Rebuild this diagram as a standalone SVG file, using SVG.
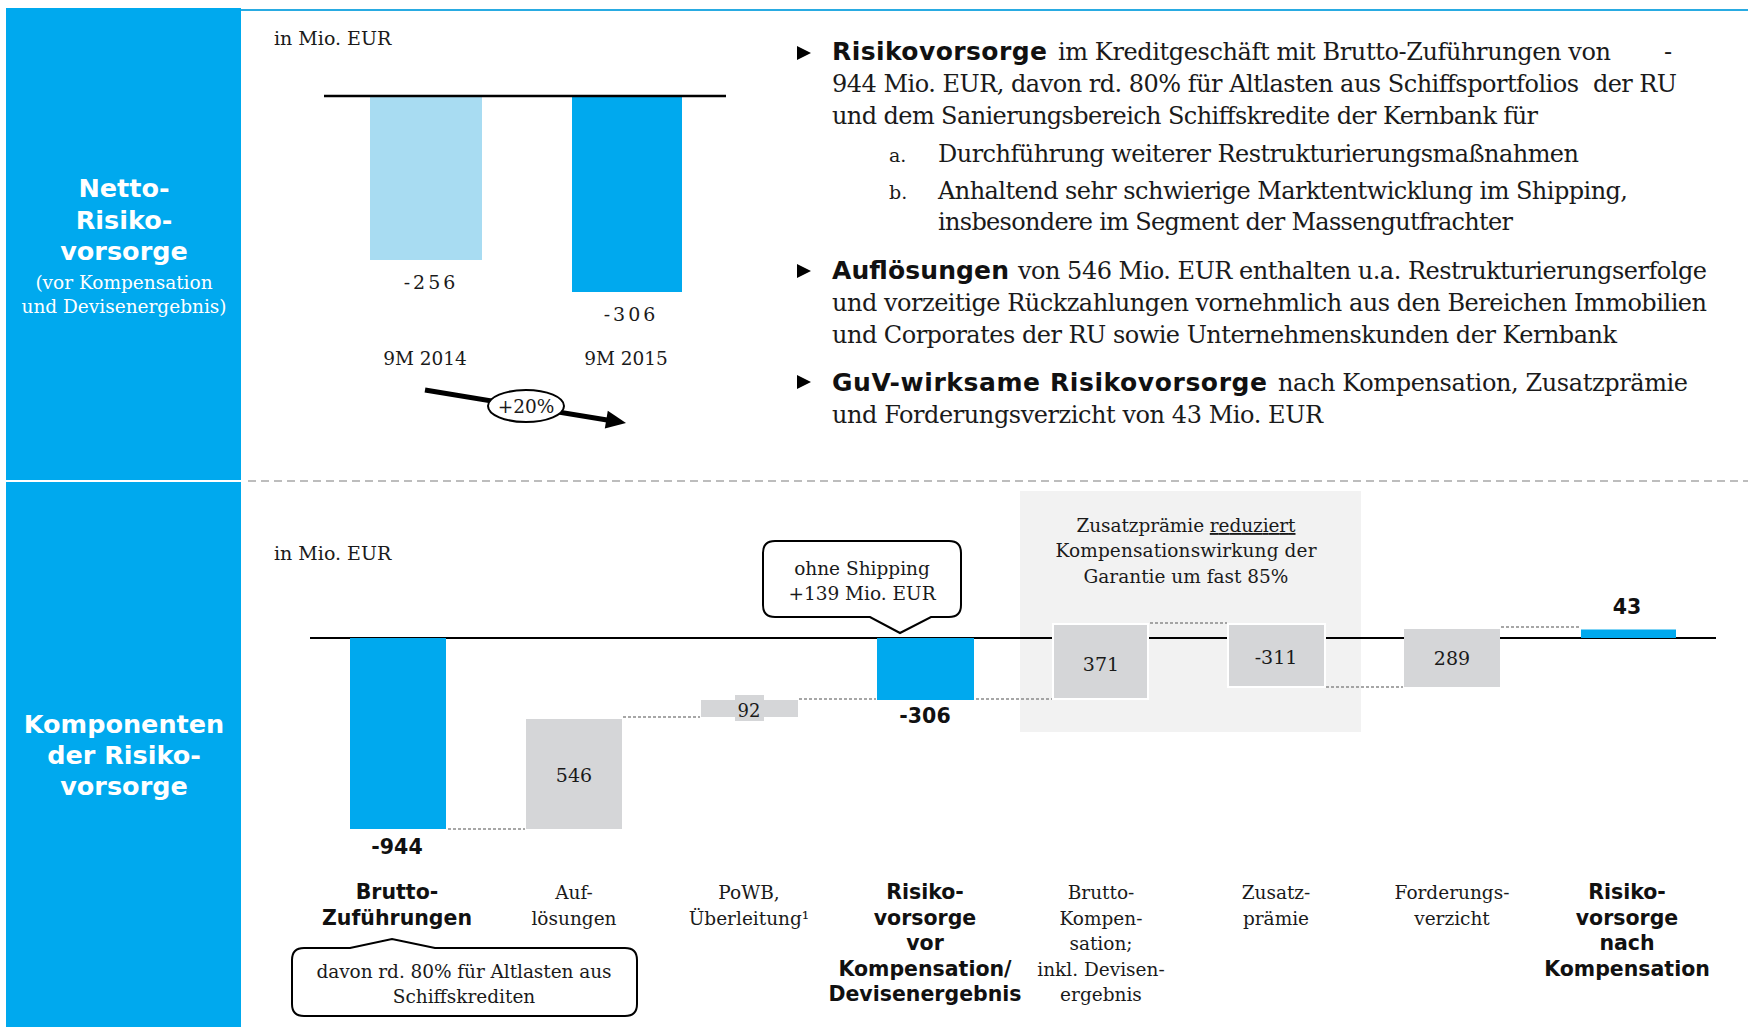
<svg xmlns="http://www.w3.org/2000/svg" width="1748" height="1027" viewBox="0 0 1748 1027">
<style>
.sr{font-family:"DejaVu Serif",serif;fill:#1a1a1a}
.sb{font-family:"DejaVu Sans",sans-serif;font-weight:bold;fill:#111}
.w{fill:#fff}
.mid{text-anchor:middle}
.blue{fill:#00A9EE}
.gray{fill:#D5D6D8}
.dash{stroke:#8a8a8a;stroke-width:1.6;stroke-dasharray:3 2;fill:none}
.body{font-size:24px}
.lbl{font-size:18.5px}
.bold20{font-size:20.5px}
</style>
<rect width="1748" height="1027" fill="#fff"/>
<!-- left panels -->
<g id="panel-netto">
<rect x="6" y="8" width="235" height="473" class="blue"/>
<text class="sb w mid" x="124" y="197" font-size="25.5">Netto-</text>
<text class="sb w mid" x="124" y="229" font-size="25.5">Risiko-</text>
<text class="sb w mid" x="124" y="260" font-size="25.5">vorsorge</text>
<text class="sr w mid" x="124" y="289" font-size="18.5" style="fill:#fff">(vor Kompensation</text>
<text class="sr w mid" x="124" y="313" font-size="18.5" style="fill:#fff">und Devisenergebnis)</text>
</g>
<g id="panel-komponenten">
<rect x="6" y="482" width="235" height="545" class="blue"/>
<text class="sb w mid" x="124" y="733" font-size="25.5">Komponenten</text>
<text class="sb w mid" x="124" y="764" font-size="25.5">der Risiko-</text>
<text class="sb w mid" x="124" y="795" font-size="25.5">vorsorge</text>
</g>
<line x1="6" y1="481" x2="241" y2="481" stroke="#fff" stroke-width="2"/>
<line x1="241" y1="10" x2="1748" y2="10" stroke="#29ABE2" stroke-width="2"/>
<line x1="248" y1="481" x2="1748" y2="481" stroke="#BDBDBD" stroke-width="2" stroke-dasharray="8 5"/>

<!-- upper chart -->
<g id="upper-chart">
<text class="sr" x="274" y="45" font-size="19">in Mio. EUR</text>
<rect id="bar-2014" x="370" y="96" width="112" height="164" fill="#A8DCF2"/>
<rect id="bar-2015" x="572" y="96" width="110" height="196" class="blue"/>
<line x1="324" y1="96" x2="726" y2="96" stroke="#000" stroke-width="2.5"/>
<text class="sr mid" x="431" y="289" font-size="19" letter-spacing="3">-256</text>
<text class="sr mid" x="631" y="321" font-size="19" letter-spacing="3">-306</text>
<text class="sr mid" x="425" y="365" font-size="18.5">9M 2014</text>
<text class="sr mid" x="626" y="365" font-size="18.5">9M 2015</text>
</g>
<g id="connectors-upper">
<line x1="425" y1="390" x2="607" y2="420" stroke="#000" stroke-width="5"/>
<polygon points="626,423 604.8,428.6 607.8,410.8" fill="#000"/>
</g>
<g id="growth-label">
<ellipse cx="526" cy="406" rx="38" ry="16" fill="#fff" stroke="#000" stroke-width="2"/>
<text class="sr mid" x="526" y="413" font-size="18.5">+20%</text>
</g>

<!-- bullets -->
<g id="bullets">
<polygon points="797,46 811,53 797,60" fill="#000"/>
<polygon points="797,264 811,271 797,278" fill="#000"/>
<polygon points="797,375 811,382 797,389" fill="#000"/>
<text class="sb" x="832" y="60" font-size="25" textLength="215">Risikovorsorge</text>
<text class="sr body" x="1058" y="60" textLength="553">im Kreditgeschäft mit Brutto-Zuführungen von</text>
<text class="sr body" x="1664" y="60">-</text>
<text class="sr body" x="832" y="92" textLength="747">944 Mio. EUR, davon rd. 80% für Altlasten aus Schiffsportfolios</text>
<text class="sr body" x="1593" y="92" textLength="84">der RU</text>
<text class="sr body" x="832" y="124" textLength="706">und dem Sanierungsbereich Schiffskredite der Kernbank für</text>
<text class="sr" x="889" y="162" font-size="19">a.</text>
<text class="sr body" x="938" y="162" textLength="641">Durchführung weiterer Restrukturierungsmaßnahmen</text>
<text class="sr" x="889" y="199" font-size="19">b.</text>
<text class="sr body" x="938" y="199" textLength="690">Anhaltend sehr schwierige Marktentwicklung im Shipping,</text>
<text class="sr body" x="938" y="230" textLength="575">insbesondere im Segment der Massengutfrachter</text>
<text class="sb" x="832" y="279" font-size="25" textLength="177">Auflösungen</text>
<text class="sr body" x="1018" y="279" textLength="689">von 546 Mio. EUR enthalten u.a. Restrukturierungserfolge</text>
<text class="sr body" x="832" y="311" textLength="875">und vorzeitige Rückzahlungen vornehmlich aus den Bereichen Immobilien</text>
<text class="sr body" x="832" y="343" textLength="785">und Corporates der RU sowie Unternehmenskunden der Kernbank</text>
<text class="sb" x="832" y="391" font-size="25" textLength="435">GuV-wirksame Risikovorsorge</text>
<text class="sr body" x="1278" y="391" textLength="410">nach Kompensation, Zusatzprämie</text>
<text class="sr body" x="832" y="423" textLength="491">und Forderungsverzicht von 43 Mio. EUR</text>
</g>

<!-- lower chart -->
<text class="sr" x="274" y="560" font-size="19">in Mio. EUR</text>
<g id="garantie-box">
<rect x="1020" y="491" width="341" height="241" fill="#F2F2F2"/>
<text class="sr mid lbl" x="1186" y="532" textLength="219">Zusatzprämie <tspan text-decoration="underline">reduziert</tspan></text>
<text class="sr mid lbl" x="1186" y="557" textLength="261">Kompensationswirkung der</text>
<text class="sr mid lbl" x="1186" y="583">Garantie um fast 85%</text>
</g>
<line x1="310" y1="638" x2="1716" y2="638" stroke="#000" stroke-width="2.2"/>

<g id="connectors">
<line class="dash" x1="448" y1="829" x2="525" y2="829"/>
<line class="dash" x1="623" y1="717" x2="700" y2="717"/>
<line class="dash" x1="799" y1="699" x2="876" y2="699"/>
<line class="dash" x1="976" y1="699" x2="1052" y2="699"/>
<line class="dash" x1="1150" y1="623" x2="1227" y2="623"/>
<line class="dash" x1="1326" y1="687" x2="1403" y2="687"/>
<line class="dash" x1="1501" y1="627" x2="1579" y2="627"/>
</g>

<g id="bar-brutto-zufuehrungen">
<rect x="350" y="638" width="96" height="191" class="blue"/>
<text class="sb mid bold20" x="397" y="854">-944</text>
<text class="sb mid bold20" x="397" y="899">Brutto-</text>
<text class="sb mid bold20" x="397" y="925">Zuführungen</text>
</g>
<g id="bar-aufloesungen">
<rect x="526" y="719" width="96" height="110" class="gray"/>
<text class="sr mid" x="574" y="782" font-size="19">546</text>
<text class="sr mid lbl" x="574" y="899">Auf-</text>
<text class="sr mid lbl" x="574" y="925">lösungen</text>
</g>
<g id="bar-powb">
<rect x="701" y="700" width="97" height="17" class="gray"/>
<rect x="735" y="695" width="29" height="26" class="gray"/>
<text class="sr mid" x="749" y="717" font-size="18">92</text>
<text class="sr mid lbl" x="749" y="899">PoWB,</text>
<text class="sr mid lbl" x="749" y="925">Überleitung¹</text>
</g>
<g id="bar-risikovorsorge-vor">
<rect x="877" y="638" width="97" height="62" class="blue"/>
<text class="sb mid bold20" x="925" y="723">-306</text>
<text class="sb mid bold20" x="925" y="899">Risiko-</text>
<text class="sb mid bold20" x="925" y="925">vorsorge</text>
<text class="sb mid bold20" x="925" y="950">vor</text>
<text class="sb mid bold20" x="925" y="976">Kompensation/</text>
<text class="sb mid bold20" x="925" y="1001">Devisenergebnis</text>
</g>
<g id="callout-shipping">
<path d="M775 541 H949 Q961 541 961 553 V605 Q961 617 949 617 H931 L900 633 L870 617 H775 Q763 617 763 605 V553 Q763 541 775 541 Z" fill="#fff" stroke="#000" stroke-width="2"/>
<text class="sr mid lbl" x="862" y="575">ohne Shipping</text>
<text class="sr mid lbl" x="862" y="600">+139 Mio. EUR</text>
</g>
<g id="bar-brutto-kompensation">
<rect x="1053" y="624" width="95" height="75" class="gray" stroke="#fff" stroke-width="2"/>
<text class="sr mid" x="1101" y="671" font-size="19">371</text>
<text class="sr mid lbl" x="1101" y="899">Brutto-</text>
<text class="sr mid lbl" x="1101" y="925">Kompen-</text>
<text class="sr mid lbl" x="1101" y="950">sation;</text>
<text class="sr mid lbl" x="1101" y="976">inkl. Devisen-</text>
<text class="sr mid lbl" x="1101" y="1001">ergebnis</text>
</g>
<g id="bar-zusatzpraemie">
<rect x="1228" y="624" width="97" height="63" class="gray" stroke="#fff" stroke-width="2"/>
<text class="sr mid" x="1276" y="664" font-size="19">-311</text>
<text class="sr mid lbl" x="1276" y="899">Zusatz-</text>
<text class="sr mid lbl" x="1276" y="925">prämie</text>
</g>
<g id="bar-forderungsverzicht">
<rect x="1404" y="629" width="96" height="58" class="gray"/>
<text class="sr mid" x="1452" y="665" font-size="19">289</text>
<text class="sr mid lbl" x="1452" y="899">Forderungs-</text>
<text class="sr mid lbl" x="1452" y="925">verzicht</text>
</g>
<g id="bar-risikovorsorge-nach">
<rect x="1581" y="629.5" width="95" height="8.5" class="blue"/>
<text class="sb mid bold20" x="1627" y="614">43</text>
<text class="sb mid bold20" x="1627" y="899">Risiko-</text>
<text class="sb mid bold20" x="1627" y="925">vorsorge</text>
<text class="sb mid bold20" x="1627" y="950">nach</text>
<text class="sb mid bold20" x="1627" y="976">Kompensation</text>
</g>
<g id="callout-altlasten">
<path d="M304 948 H350 L392 939 L435 948 H625 Q637 948 637 960 V1004 Q637 1016 625 1016 H304 Q292 1016 292 1004 V960 Q292 948 304 948 Z" fill="#fff" stroke="#000" stroke-width="2"/>
<text class="sr mid lbl" x="464" y="978" textLength="295">davon rd. 80% für Altlasten aus</text>
<text class="sr mid lbl" x="464" y="1003">Schiffskrediten</text>
</g>
</svg>
